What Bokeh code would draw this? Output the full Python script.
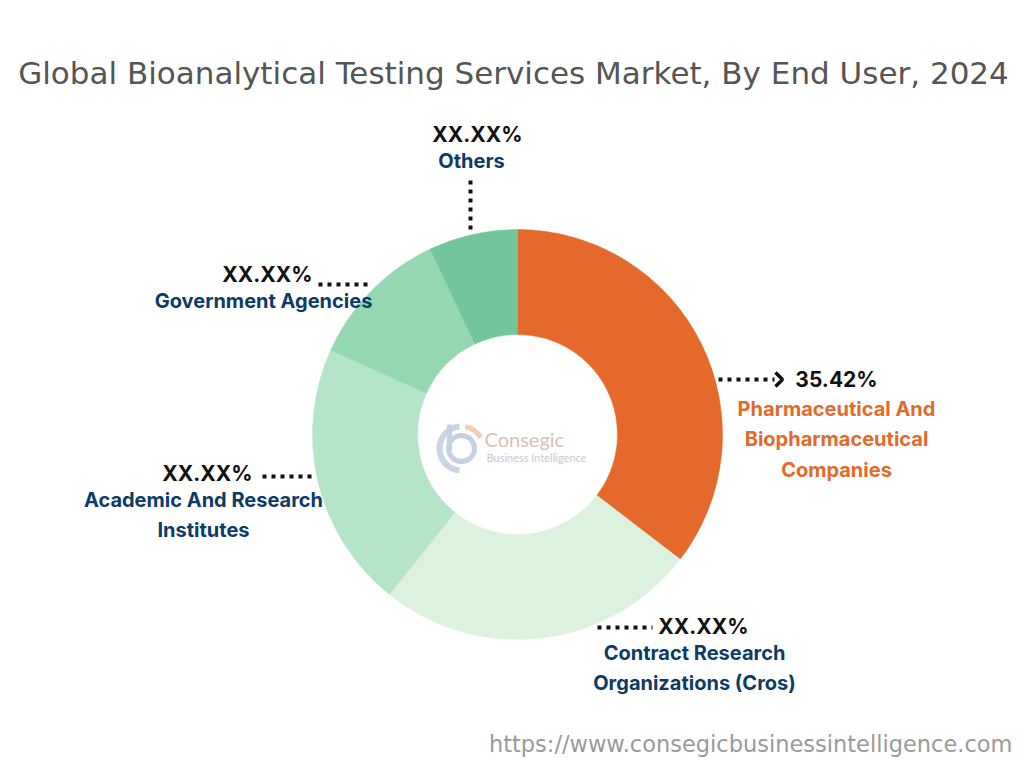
import math
from bokeh.plotting import figure
from bokeh.models import Range1d
from bokeh.core.properties import value
from bokeh.embed import file_html
from bokeh.resources import INLINE

# ---- data ----
segments = ["Pharmaceutical And Biopharmaceutical Companies",
            "Contract Research Organizations (Cros)",
            "Academic And Research Institutes",
            "Government Agencies",
            "Others"]
shares = [35.42, 25.33, 21.0, 11.25, 7.0]
share_labels = ["35.42%", "XX.XX%", "XX.XX%", "XX.XX%", "XX.XX%"]
colors = ["#E4692A", "#DCF2DF", "#B4E5C8", "#95D7B1", "#73C69C"]
title = "Global Bioanalytical Testing Services Market, By End User, 2024"
url = "https://www.consegicbusinessintelligence.com"

W, H = 1024, 768
def Y(y):
    return H - y

p = figure(width=W, height=H, output_backend="svg", toolbar_location=None,
           x_range=Range1d(0, W), y_range=Range1d(0, H),
           x_axis_location=None, y_axis_location=None, min_border=0)
p.grid.visible = False
p.outline_line_color = None
p.background_fill_color = "white"
p.border_fill_color = "white"

# ---- donut ----
cx, cy = 517, Y(434)
total = sum(shares)
starts, ends = [], []
acc = 0.0
for s in shares:
    starts.append(math.pi / 2 - acc / total * 2 * math.pi)
    acc += s
    ends.append(math.pi / 2 - acc / total * 2 * math.pi)
p.annular_wedge(x=[cx] * len(shares), y=[cy] * len(shares), inner_radius=100, outer_radius=205,
                start_angle=starts, end_angle=ends, direction="clock",
                fill_color=colors, line_color=colors, line_width=0.5)

# ---- title / url ----
p.text(x=[513], y=[Y(72)], text=[title], text_align="center", text_baseline="middle",
       text_font=value("DejaVu Sans"), text_font_size="31px", text_color="#555555")
p.text(x=[1012], y=[Y(743)], text=[url], text_align="right", text_baseline="middle",
       text_font=value("DejaVu Sans"), text_font_size="22.5px", text_color="#9a9a9a")

NAVY = "#0D3A66"
F = value("Inter")

def pct(x, y, t):
    p.text(x=[x], y=[Y(y)], text=[t], text_align="center", text_baseline="middle",
           text_font=F, text_font_style="bold", text_font_size="21px", text_color="#111111")

def lab(x, y, lines, color=NAVY, dy=30.5):
    for i, t in enumerate(lines):
        p.text(x=[x], y=[Y(y + i * dy)], text=[t], text_align="center", text_baseline="middle",
               text_font=F, text_font_style="bold", text_font_size="20px", text_color=color)

def dots(x0, y0, x1, y1):
    p.line([x0, x1], [Y(y0), Y(y1)], line_color="#111111", line_width=4, line_dash="4 5")

# Pharma
dots(718, 379, 774, 379)
p.line([775, 782, 775], [Y(372), Y(379), Y(386)], line_color="#111111", line_width=3.5)
pct(836, 379, share_labels[0])
lab(836, 408, ["Pharmaceutical And", "Biopharmaceutical", "Companies"], color="#E4692A")

# Contract
dots(597, 627, 652, 627)
pct(703, 626, share_labels[1])
lab(694, 652, ["Contract Research", "Organizations (Cros)"])

# Academic
dots(262, 476, 315, 476)
pct(207, 473, share_labels[2])
lab(203, 499, ["Academic And Research", "Institutes"])

# Government
dots(318, 284, 372, 284)
pct(267, 274, share_labels[3])
lab(263, 300, ["Government Agencies"])

# Others
dots(470, 180, 470, 232)
pct(477, 134, share_labels[4])
lab(471, 160, ["Others"])

# ---- watermark logo ----
p.arc(x=[461], y=[Y(448)], radius=13, start_angle=0, end_angle=2 * math.pi,
      line_color="#C3D1E2", line_width=5)
p.arc(x=[461], y=[Y(448)], radius=22, start_angle=math.radians(95), end_angle=math.radians(265),
      line_color="#C9D5E4", line_width=6)
p.line([449, 449], [Y(424), Y(450)], line_color="#C3D1E2", line_width=5)
p.arc(x=[461], y=[Y(448)], radius=22, start_angle=math.radians(30), end_angle=math.radians(80),
      line_color="#F2CDB8", line_width=5)
p.text(x=[484], y=[Y(438)], text=["Consegic"], text_align="left", text_baseline="middle",
       text_font=value("Lato"), text_font_size="20px", text_color="#D9C0B8")
p.text(x=[486], y=[Y(457)], text=["Business Intelligence"], text_align="left", text_baseline="middle",
       text_font=value("Lato"), text_font_size="11px", text_color="#C9C9D4")

open("out.html", "w").write(file_html(p, INLINE))
